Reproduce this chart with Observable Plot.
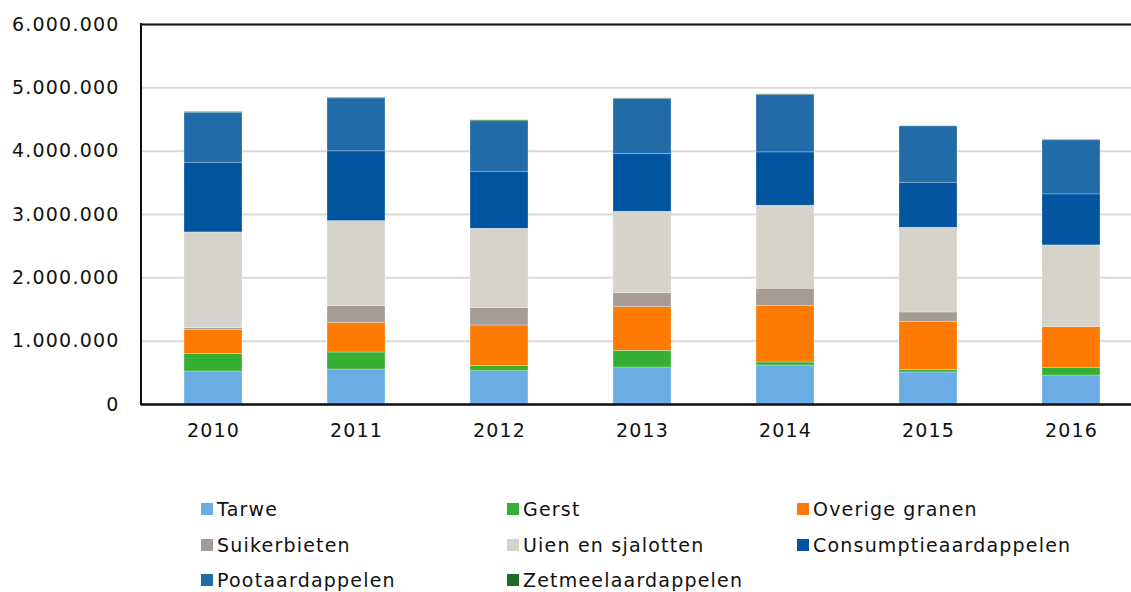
<!DOCTYPE html>
<html>
<head>
<meta charset="utf-8">
<script src="https://cdn.jsdelivr.net/npm/d3@7"></script>
<script src="https://cdn.jsdelivr.net/npm/@observablehq/plot@0.6"></script>
<style>
  html, body { margin: 0; padding: 0; background: #fff; overflow: hidden; width: 1131px; height: 592px; }
  #wrap { position: relative; width: 1131px; height: 592px; overflow: hidden; font-family: "DejaVu Sans", Verdana, sans-serif; }
  #chart svg { display: block; max-width: none !important; }
  .leg { position: absolute; display: flex; align-items: center; font-size: 19px; letter-spacing: 1.2px; color: #111; white-space: nowrap; }
  .leg .sw { width: 12px; height: 12px; margin-right: 4px; }
</style>
</head>
<body>
<div id="wrap">
  <div id="chart"></div>
  <div id="legend"></div>
</div>
<script>
const years = ["2010", "2011", "2012", "2013", "2014", "2015", "2016"];
const crops = ["Tarwe", "Gerst", "Overige granen", "Suikerbieten", "Uien en sjalotten", "Consumptieaardappelen", "Pootaardappelen", "Zetmeelaardappelen"];
const colors = ["#6aade4", "#35b035", "#ff7a00", "#a59d95", "#d6d3cb", "#0054a0", "#216ba8", "#1e6b23"];

const tarwe        = [521000, 553000, 526000, 584000, 616000, 506000, 458000];
const gerst        = [274000, 268000,  85000, 264000,  47000,  36000, 122000];
const overige      = [385000, 469000, 637000, 689000, 890000, 758000, 641000];
const suikerbieten = [ 25000, 263000, 273000, 221000, 275000, 153000,   5000];
const uien         = [1512000, 1343000, 1254000, 1286000, 1311000, 1338000, 1286000];
const consumptie   = [1101000, 1101000, 901000, 911000, 842000, 711000, 806000];
const poot         = [790000, 837000, 795000, 869000, 905000, 890000, 853000];
const zetmeel      = [ 10000,  11000,  16000,  10000,  11000,   3000,  10000];

const yTicks = [0, 1000000, 2000000, 3000000, 4000000, 5000000, 6000000];

const series = [tarwe, gerst, overige, suikerbieten, uien, consumptie, poot, zetmeel];
const data = [];
crops.forEach((c, ci) => years.forEach((y, yi) => data.push({crop: c, year: y, value: series[ci][yi]})));

const fmt = d => d3.format(",")(d).replace(/,/g, ".");

const chart = Plot.plot({
  width: 1142,
  height: 460,
  marginLeft: 141,
  marginRight: 0,
  marginTop: 24,
  marginBottom: 56,
  style: { fontFamily: "DejaVu Sans, Verdana, sans-serif", fontSize: "19px", letterSpacing: "1.2px", color: "#111", background: "white", maxWidth: "none" },
  x: { domain: years, paddingInner: 0.595, paddingOuter: 0.295, label: null },
  y: { domain: [0, 6000000], label: null },
  color: { domain: crops, range: colors },
  marks: [
    Plot.gridY(yTicks, { stroke: "#d9d9d9", strokeOpacity: 1, strokeWidth: 2 }),
    Plot.barY(data, Plot.stackY({ x: "year", y: "value", fill: "crop", order: crops, stroke: "#ffffff", strokeWidth: 0.6, strokeOpacity: 0.45 })),
    Plot.ruleY([6000000], { stroke: "#111", strokeWidth: 2 }),
    Plot.ruleY([0], { stroke: "#111", strokeWidth: 2.5 }),
    Plot.axisY({ ticks: yTicks, tickSize: 0, tickPadding: 22, tickFormat: fmt, label: null }),
    Plot.axisX({ tickSize: 0, tickPadding: 19, label: null })
  ]
});
document.getElementById("chart").appendChild(chart);

// left axis line, placed through the scales
const xr = chart.scale("x").range;
const ys = chart.scale("y");
d3.select(chart).append("line")
  .attr("x1", xr[0]).attr("x2", xr[0])
  .attr("y1", ys.apply(0) + 1.25).attr("y2", ys.apply(6000000) - 1)
  .attr("stroke", "#111").attr("stroke-width", 2);

const legend = document.getElementById("legend");
const colX = [201, 507, 797];
const rowY = [499, 535, 570];
crops.forEach((c, i) => {
  const item = document.createElement("div");
  item.className = "leg";
  item.style.left = colX[i % 3] + "px";
  item.style.top = rowY[Math.floor(i / 3)] + "px";
  item.style.height = "20px";
  const sw = document.createElement("span");
  sw.className = "sw";
  sw.style.background = colors[i];
  const tx = document.createElement("span");
  tx.textContent = c;
  item.appendChild(sw);
  item.appendChild(tx);
  legend.appendChild(item);
});
</script>
</body>
</html>
